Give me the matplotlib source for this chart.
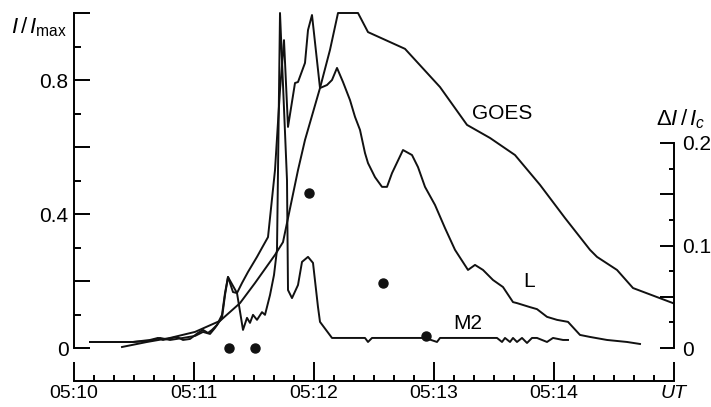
import numpy as np
import matplotlib
matplotlib.use("Agg")
import matplotlib.pyplot as plt
from matplotlib.ticker import FixedLocator, FixedFormatter

plt.rcParams['font.family'] = ['Liberation Sans', 'DejaVu Sans']
plt.rcParams['mathtext.fontset'] = 'custom'
plt.rcParams['mathtext.rm'] = 'Liberation Sans'
plt.rcParams['mathtext.it'] = 'Liberation Sans:italic'

# time in seconds after 05:10:00 UT, intensity I/Imax
goes_t = [24, 36.5, 48, 60.5, 73, 83, 90.5, 100.5, 104.5, 112, 115.5, 123, 128, 132,
          142, 147, 165.5, 183, 196.5, 208, 220.5, 233, 245.5, 258, 261.5, 271.5, 279.5, 299.5]
goes_v = [0.003, 0.018, 0.030, 0.048, 0.081, 0.134, 0.194, 0.278, 0.316, 0.531, 0.621, 0.776, 0.890, 1.0,
          1.0, 0.943, 0.893, 0.779, 0.666, 0.627, 0.576, 0.487, 0.388, 0.293, 0.272, 0.233, 0.179, 0.134]

l_t = [8, 29.5, 38, 42, 44.5, 51.5, 54.5, 58, 62, 64.5, 67, 69, 71.5, 74, 75.5, 77, 79.5, 81.5,
       84, 87, 91.5, 94, 97, 100.5, 103, 105, 107, 110.5, 112, 115.5, 117, 119, 123, 126.5, 129,
       131.5, 134.5, 138, 140.5, 143, 145.5, 147, 150.5, 154, 156.5, 159, 164.5, 169, 172, 175.5,
       180.5, 185.5, 190.5, 197, 200.5, 204.5, 209.5, 214.5, 219.5, 221.5, 228, 231.5, 236.5,
       241.5, 247, 253, 258, 266.5, 276.5, 283]
l_v = [0.018, 0.018, 0.024, 0.030, 0.024, 0.033, 0.024, 0.027, 0.045, 0.054, 0.045, 0.054, 0.069,
       0.099, 0.164, 0.212, 0.167, 0.164, 0.194, 0.227, 0.272, 0.299, 0.331, 0.531, 0.770, 0.919,
       0.660, 0.791, 0.794, 0.851, 0.949, 0.994, 0.776, 0.785, 0.800, 0.836, 0.794, 0.740, 0.690,
       0.651, 0.582, 0.552, 0.510, 0.481, 0.481, 0.522, 0.591, 0.576, 0.540, 0.481, 0.427, 0.358,
       0.293, 0.233, 0.248, 0.233, 0.203, 0.182, 0.137, 0.134, 0.122, 0.116, 0.093, 0.084, 0.078,
       0.039, 0.033, 0.024, 0.018, 0.012]

m2_t = [8, 29.5, 38, 43, 48, 54.5, 60.5, 64.5, 68, 70.5, 74, 75.5, 77, 81.5, 84.5, 86.5, 88, 89.5,
        91.5, 94, 95.5, 98, 100, 101.5, 103, 106.5, 107, 109, 112, 114, 117, 119.5, 122, 123, 129,
        145.5, 147, 149, 175.5, 181.5, 183, 211.5, 214, 215.5, 218, 219.5, 221.5, 224, 226.5, 229,
        231.5, 236.5, 239.5, 244.5, 247]
m2_v = [0.018, 0.018, 0.021, 0.030, 0.024, 0.030, 0.036, 0.048, 0.042, 0.060, 0.090, 0.158, 0.212,
        0.164, 0.054, 0.090, 0.075, 0.099, 0.084, 0.107, 0.099, 0.158, 0.218, 0.293, 1.0, 0.501,
        0.173, 0.149, 0.188, 0.257, 0.272, 0.254, 0.122, 0.078, 0.030, 0.030, 0.018, 0.030, 0.030,
        0.018, 0.030, 0.030, 0.018, 0.030, 0.018, 0.030, 0.018, 0.030, 0.015, 0.030, 0.030, 0.018,
        0.030, 0.024, 0.024]

# polarization points, right axis dI/Ic
dot_t = [77.5, 90.5, 117.5, 154.5, 176]
dot_v = [0.0, 0.0, 0.151, 0.063, 0.012]

xtick_pos = [0, 60, 120, 180, 240, 300]
xtick_lab = ['05:10', '05:11', '05:12', '05:13', '05:14', 'UT']

W, H = 711, 407
fs = 15
fig = plt.figure(figsize=(W / 100, H / 100), dpi=100)
ax = fig.add_axes([74 / W, 59 / H, 600 / W, 335 / H])
ax2 = ax.twinx()

lw = 1.4
col = '#111111'
ax.plot(goes_t, goes_v, color=col, lw=lw, clip_on=False)
ax.plot(l_t, l_v, color=col, lw=lw, clip_on=False)
ax.plot(m2_t, m2_v, color=col, lw=lw, clip_on=False)
ax2.plot(dot_t, dot_v, 'o', color=col, ms=6.5, clip_on=False)

ax.set_xlim(0, 300)
ax.set_ylim(0, 1.0)
ax2.set_ylim(0, 335 / 1025)

for a in (ax, ax2):
    a.spines['top'].set_visible(False)
    a.patch.set_visible(False)
ax.spines['right'].set_visible(False)
ax2.spines['left'].set_visible(False)
ax2.spines['bottom'].set_visible(False)
for s in ('left', 'bottom'):
    ax.spines[s].set_linewidth(lw)
ax2.spines['right'].set_linewidth(lw)
ax.spines['bottom'].set_position(('outward', 23.8))
ax.spines['bottom'].set_bounds(0, 300)
ax.spines['left'].set_bounds(0, 1.0)
ax2.spines['right'].set_bounds(0, 0.2)

ax.xaxis.set_major_locator(FixedLocator(xtick_pos))
ax.xaxis.set_major_formatter(FixedFormatter(xtick_lab))
ax.xaxis.set_minor_locator(FixedLocator(np.arange(0, 301, 10)))
ax.tick_params(axis='x', which='major', direction='in', length=13.7, width=lw, pad=2.5, labelsize=14)
ax.tick_params(axis='x', which='minor', direction='in', length=4.3, width=lw)

ax.yaxis.set_major_locator(FixedLocator([0, 0.2, 0.4, 0.6, 0.8, 1.0]))
ax.yaxis.set_major_formatter(FixedFormatter(['0', '', '0.4', '', '0.8', '']))
ax.yaxis.set_minor_locator(FixedLocator([0.1, 0.3, 0.5, 0.7, 0.9]))
ax.tick_params(axis='y', which='major', direction='in', length=11.5, width=lw, pad=4, labelsize=fs)
ax.tick_params(axis='y', which='minor', direction='in', length=5, width=lw)

ax2.yaxis.set_major_locator(FixedLocator([0, 0.05, 0.1, 0.15, 0.2]))
ax2.yaxis.set_major_formatter(FixedFormatter(['0', '', '0.1', '', '0.2']))
ax2.yaxis.set_minor_locator(FixedLocator([0.025, 0.075, 0.125, 0.175]))
ax2.tick_params(axis='y', which='major', direction='in', length=10, width=lw, pad=6, labelsize=fs)
ax2.tick_params(axis='y', which='minor', direction='in', length=3.6, width=lw)

ax.get_xticklabels()[-1].set_fontstyle('italic')

ax.text(214, 0.70, 'GOES', fontsize=fs, ha='center', va='center')
ax.text(227.5, 0.198, 'L', fontsize=fs, ha='center', va='center')
ax.text(197, 0.073, 'M2', fontsize=fs, ha='center', va='center')

fig.text(11 / W, 1 - 33 / H, r'$I\,/\,I_{\mathrm{max}}$', fontsize=16, ha='left', va='baseline')
fig.text(656 / W, 1 - 125 / H, r'$\Delta I\,/\,I_c$', fontsize=16, ha='left', va='baseline')

fig.savefig('out.png', dpi=100)
